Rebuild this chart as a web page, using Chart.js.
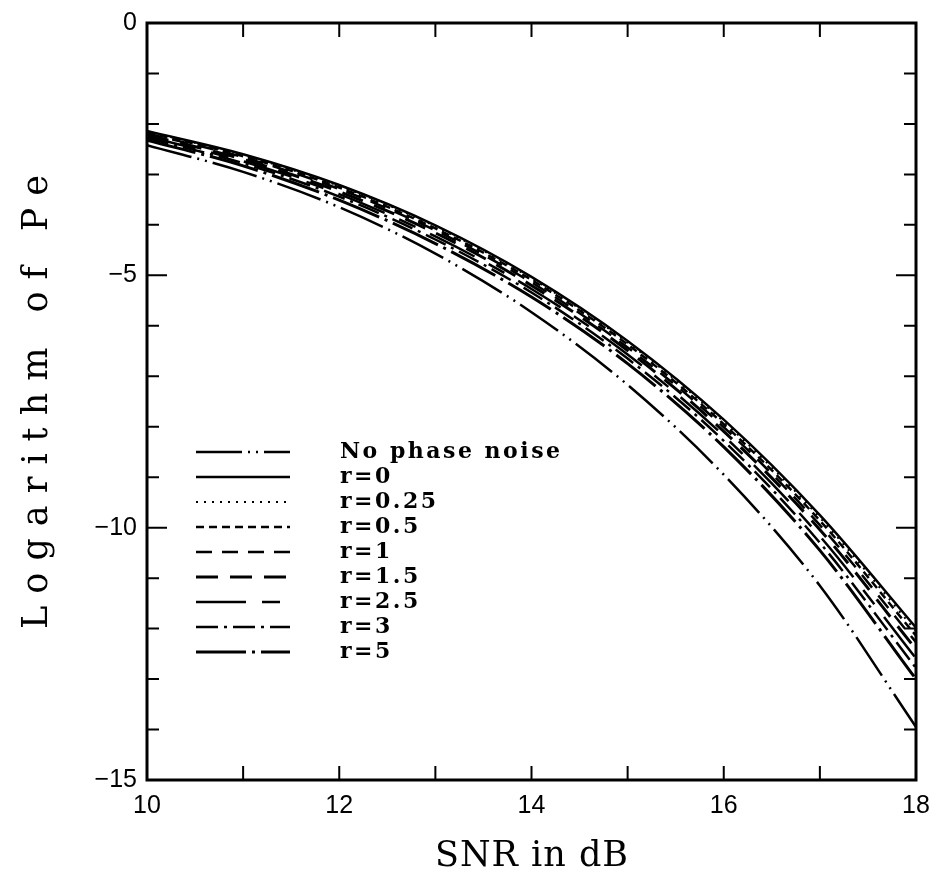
<!DOCTYPE html>
<html>
<head>
<meta charset="utf-8">
<script src="https://cdn.jsdelivr.net/npm/chart.js@4"></script>
<style>
  body { margin: 0; background: #fff; }
  #wrap { width: 938px; height: 878px; }
</style>
</head>
<body>
<div id="wrap"><canvas id="myChart" width="938" height="878"></canvas></div>
<script>
// SNR in dB
const snr = [10, 11, 12, 13, 14, 15, 16, 17, 18];

// log10(Pe)
const noPhaseNoise = [-2.42, -2.95, -3.65, -4.57, -5.73, -7.17, -8.95, -11.15, -13.95];
const r0    = [-2.14, -2.60, -3.21, -4.01, -5.03, -6.30, -7.86, -9.75, -11.98];
const r025  = [-2.15, -2.62, -3.23, -4.03, -5.06, -6.33, -7.90, -9.80, -12.05];
const r05   = [-2.17, -2.64, -3.26, -4.07, -5.09, -6.37, -7.95, -9.86, -12.14];
const r1    = [-2.19, -2.66, -3.29, -4.11, -5.14, -6.43, -8.01, -9.95, -12.27];
const r15   = [-2.22, -2.70, -3.34, -4.16, -5.20, -6.49, -8.09, -10.04, -12.41];
const r25   = [-2.25, -2.74, -3.39, -4.23, -5.27, -6.57, -8.18, -10.17, -12.59];
const r3    = [-2.28, -2.78, -3.44, -4.29, -5.34, -6.65, -8.28, -10.30, -12.78];
const r5    = [-2.32, -2.83, -3.51, -4.37, -5.43, -6.75, -8.40, -10.45, -13.00];

const xTicks = [10, 12, 14, 16, 18];
const yTicks = [0, -5, -10, -15];

function series(label, values, dash, width) {
  return {
    label: label,
    data: snr.map((x, i) => ({ x: x, y: values[i] })),
    borderColor: "#000",
    borderWidth: width,
    borderDash: dash,
    pointRadius: 0,
    fill: false,
    cubicInterpolationMode: "monotone",
  };
}

const datasets = [
  series("No phase noise", noPhaseNoise, [46, 6, 2, 6, 2, 6], 2.5),
  series("r=0", r0, [], 2.5),
  series("r=0.25", r025, [2, 6], 2),
  series("r=0.5", r05, [8, 5], 2.5),
  series("r=1", r1, [16, 10], 2.5),
  series("r=1.5", r15, [22, 12], 3),
  series("r=2.5", r25, [50, 16, 18, 16], 2.5),
  series("r=3", r3, [22, 6, 3, 6], 2.5),
  series("r=5", r5, [50, 6, 3, 6], 3),
];

// text with extra room between letters, centred on x
function spaced(ctx, text, x, y, gap) {
  let w = 0;
  for (const ch of text) w += ctx.measureText(ch).width + gap;
  w -= gap;
  let cx = x - w / 2;
  for (const ch of text) {
    ctx.fillText(ch, cx, y);
    cx += ctx.measureText(ch).width + gap;
  }
}

// ticks pointing into the plot, on all four sides, plus the box
const frame = {
  id: "frame",
  afterDraw(chart) {
    const ctx = chart.ctx;
    const xs = chart.scales.x, ys = chart.scales.y;
    const a = chart.chartArea;
    ctx.save();
    ctx.strokeStyle = "#000";
    ctx.lineWidth = 2;
    for (let v = 11; v < 18; v++) {
      const px = xs.getPixelForValue(v);
      ctx.beginPath();
      ctx.moveTo(px, a.bottom); ctx.lineTo(px, a.bottom - 14);
      ctx.moveTo(px, a.top); ctx.lineTo(px, a.top + 14);
      ctx.stroke();
    }
    for (let v = -14; v < 0; v++) {
      const py = ys.getPixelForValue(v);
      const len = v % 5 === 0 ? 20 : 12;
      ctx.beginPath();
      ctx.moveTo(a.left, py); ctx.lineTo(a.left + len, py);
      ctx.moveTo(a.right, py); ctx.lineTo(a.right - len, py);
      ctx.stroke();
    }
    ctx.lineWidth = 3;
    ctx.strokeRect(a.left, a.top, a.right - a.left, a.bottom - a.top);

    // axis titles
    ctx.fillStyle = "#000";
    ctx.textBaseline = "middle";
    ctx.textAlign = "left";
    ctx.font = "35px 'DejaVu Serif'";
    spaced(ctx, "SNR in dB", (a.left + a.right) / 2, 857, 1);
    ctx.save();
    ctx.translate(38, 402);
    ctx.rotate(-Math.PI / 2);
    spaced(ctx, "Logarithm of Pe", 0, 0, 12);
    ctx.restore();

    // legend inside the plot
    const x0 = 196, x1 = 290, tx = 340;
    let y = 452;
    ctx.font = "bold 22px 'DejaVu Serif'";
    chart.data.datasets.forEach(ds => {
      ctx.beginPath();
      ctx.lineWidth = ds.borderWidth;
      ctx.setLineDash(ds.borderDash);
      ctx.moveTo(x0, y); ctx.lineTo(x1, y);
      ctx.stroke();
      ctx.setLineDash([]);
      let cx = tx;
      for (const ch of ds.label) {
        ctx.fillText(ch, cx, y);
        cx += ctx.measureText(ch).width + 2.5;
      }
      y += 25;
    });
    ctx.restore();
  },
};

const config = {
  type: "line",
  data: { datasets: datasets },
  options: {
    responsive: false,
    animation: false,
    layout: { padding: { left: 8, right: 22, top: 23, bottom: 0 } },
    plugins: { legend: { display: false }, tooltip: { enabled: false } },
    scales: {
      x: {
        type: "linear",
        min: 10,
        max: 18,
        afterBuildTicks: s => { s.ticks = xTicks.map(v => ({ value: v })); },
        afterFit: s => { s.height = 98; },
        grid: { display: false },
        border: { display: false },
        ticks: { color: "#000", font: { family: "Liberation Sans", size: 25 }, padding: 3 },
      },
      y: {
        min: -15,
        max: 0,
        afterBuildTicks: s => { s.ticks = yTicks.map(v => ({ value: v })); },
        afterFit: s => { s.width = 139; },
        grid: { display: false },
        border: { display: false },
        ticks: {
          color: "#000",
          font: { family: "Liberation Sans", size: 25 },
          padding: 2,
          callback: v => (v < 0 ? "\u2212" + Math.abs(v) : String(v)),
        },
      },
    },
  },
  plugins: [frame],
};

var myChart = new Chart(document.getElementById("myChart"), config);
</script>
</body>
</html>
